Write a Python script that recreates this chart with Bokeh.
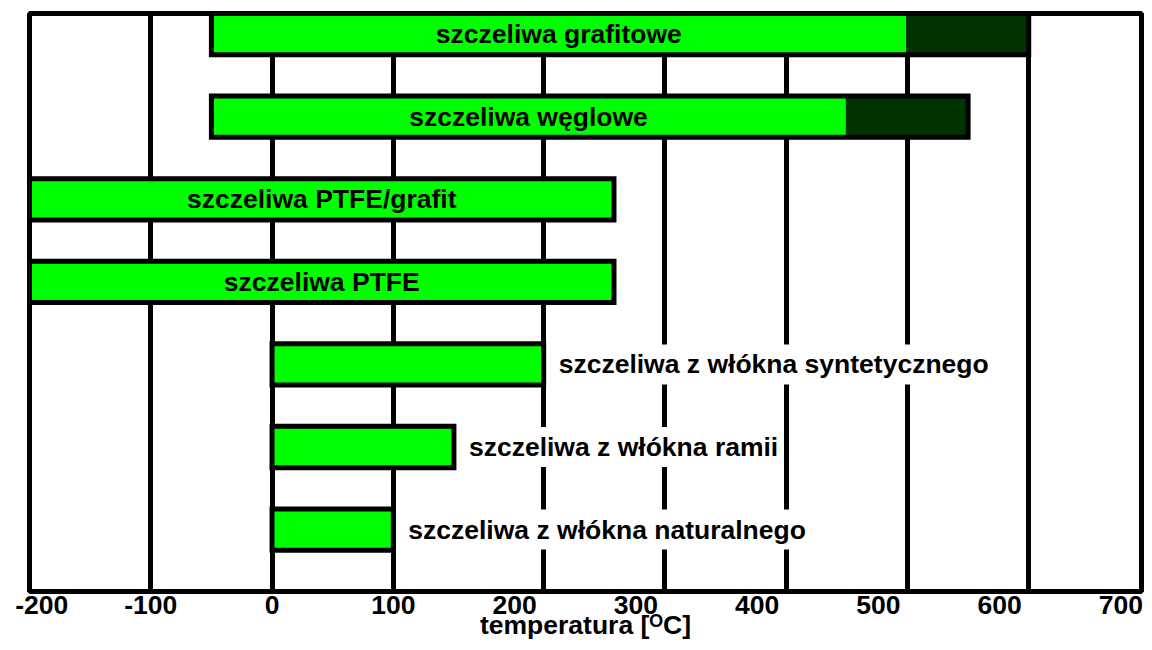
from bokeh.plotting import figure
from bokeh.models import Range1d, FixedTicker, ColumnDataSource
from bokeh.core.properties import value
from bokeh.embed import file_html
from bokeh.resources import INLINE

# ---- data ----
categories = [
    "szczeliwa grafitowe",
    "szczeliwa węglowe",
    "szczeliwa PTFE/grafit",
    "szczeliwa PTFE",
    "szczeliwa z włókna syntetycznego",
    "szczeliwa z włókna ramii",
    "szczeliwa z włókna naturalnego",
]
t_min = [-50, -50, -200, -200, 0, 0, 0]
t_green = [523, 473, 282, 282, 224, 150, 100]
t_max = [624, 574, 282, 282, 224, 150, 100]
label_inside = [True, True, True, True, False, False, False]
x_ticks = [-200, -100, 0, 100, 200, 300, 400, 500, 600, 700]
x_tick_labels = ["-200", "-100", "0", "100", "200", "300", "400", "500", "600", "700"]
grid_values = [-100, 0, 100, 224, 324, 424, 524, 624]
x_title = "temperatura [ᴼC]"

FONT = value("Liberation Sans")
FS = "26.5px"
GREEN = "#00FF00"
DARK = "#003300"

n = len(categories)
ys = [n - i for i in range(n)]

src = ColumnDataSource(dict(y=ys, lo=t_min, mid=t_green, hi=t_max, name=categories))

p = figure(width=1144, height=642, output_backend="svg", toolbar_location=None,
           x_range=Range1d(-200, 717), y_range=Range1d(0.25, n + 0.25))
p.min_border_left = 29
p.min_border_right = 3
p.min_border_top = 13
p.min_border_bottom = 0
p.background_fill_color = "white"
p.border_fill_color = "white"
p.outline_line_color = "black"
p.outline_line_width = 5
p.outline_line_alpha = 1.0

p.hbar(y="y", left="lo", right="mid", height=0.5, source=src,
       fill_color=GREEN, line_color=None)
p.hbar(y="y", left="mid", right="hi", height=0.5, source=src,
       fill_color=DARK, line_color=None)
p.hbar(y="y", left="lo", right="hi", height=0.5, source=src,
       fill_color=None, line_color="black", line_width=5, line_join="miter")

ins = [i for i in range(n) if label_inside[i]]
outs = [i for i in range(n) if not label_inside[i]]
src_in = ColumnDataSource(dict(
    x=[(t_min[i] + t_green[i]) / 2 for i in ins],
    y=[ys[i] for i in ins],
    t=[categories[i] for i in ins]))
src_out = ColumnDataSource(dict(
    x=[t_max[i] for i in outs],
    y=[ys[i] for i in outs],
    t=[categories[i] for i in outs]))

p.text(x="x", y="y", text="t", source=src_in, text_font=FONT, text_font_style="bold",
       text_font_size=FS, text_color="black", text_align="center", text_baseline="middle")
p.text(x="x", y="y", text="t", source=src_out, x_offset=10, text_font=FONT,
       text_font_style="bold", text_font_size=FS, text_color="black",
       text_align="left", text_baseline="middle",
       background_fill_color="white", padding=5)

p.ygrid.visible = False
p.yaxis.visible = False
p.xgrid.ticker = FixedTicker(ticks=grid_values)
p.xgrid.grid_line_color = "black"
p.xgrid.grid_line_width = 5
p.xgrid.grid_line_alpha = 1.0

ax = p.xaxis[0]
ax.ticker = FixedTicker(ticks=x_ticks)
overrides = {t: lab for t, lab in zip(x_ticks, x_tick_labels)}
overrides[x_ticks[0]] = "\u2007" + overrides[x_ticks[0]]
ax.major_label_overrides = overrides
ax.axis_line_color = None
ax.major_tick_line_color = None
ax.minor_tick_line_color = None
ax.major_tick_out = 0
ax.major_tick_in = 0
ax.major_label_standoff = -2
ax.major_label_text_font = "Liberation Sans"
ax.major_label_text_font_style = "bold"
ax.major_label_text_font_size = FS
ax.major_label_text_color = "black"
ax.axis_label = x_title
ax.axis_label_text_font = "Liberation Sans"
ax.axis_label_text_font_style = "bold"
ax.axis_label_text_font_size = FS
ax.axis_label_text_color = "black"
ax.axis_label_standoff = -13

open("out.html", "w").write(file_html(p, INLINE))
